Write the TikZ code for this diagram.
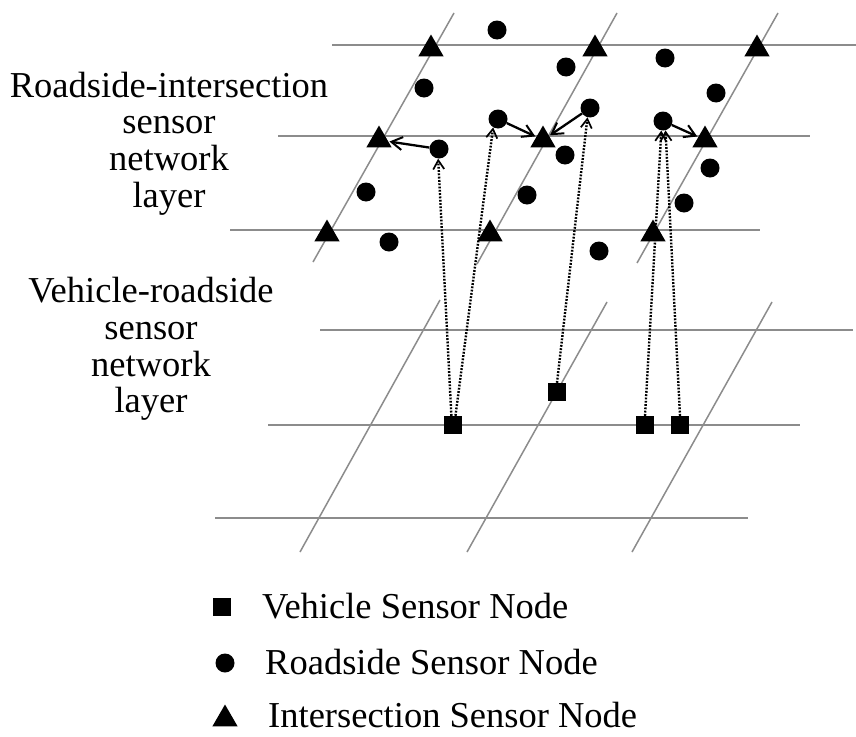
\documentclass[tikz,border=0pt]{standalone}
\usepackage{fontspec}
\setmainfont{Liberation Serif}
\usetikzlibrary{shapes.geometric,arrows.meta}

\tikzset{
  road/.style={draw=black!45, line width=1.5pt},
  roadside/.style={circle, fill=black, inner sep=0pt, minimum size=19pt},
  junction/.style={regular polygon, regular polygon sides=3, fill=black, inner sep=0pt, minimum size=29pt},
  vehicle/.style={rectangle, fill=black, inner sep=0pt, minimum size=18pt},
  relay/.style={draw=black, line width=2.3pt, -{Straight Barb[length=11pt,width=13pt,line width=2pt]}, shorten >=1pt},
  uplink/.style={draw=black, line width=2.4pt, dash pattern=on 1.8pt off 1.5pt, -{Straight Barb[length=9pt,width=11pt,line width=1.7pt]}},
  lbl/.style={align=center, inner sep=0pt, font=\fontsize{36.5}{36.8}\selectfont},
  legendtxt/.style={anchor=base west, inner sep=0pt, font=\fontsize{36.5}{36.8}\selectfont}
}

\begin{document}
\begin{tikzpicture}[x=1pt, y=-1pt]
\useasboundingbox (0,0) rectangle (856,736);

% ---- upper layer: roads ----
\draw[road] (332,45) -- (856,45);
\draw[road] (278,136) -- (810,136);
\draw[road] (230,230) -- (760,230);
\draw[road] (454,13) -- (313,262);
\draw[road] (617,13) -- (477,264);
\draw[road] (778,13) -- (637,263);

% ---- lower layer: roads ----
\draw[road] (320,330) -- (853,330);
\draw[road] (268,425) -- (800,425);
\draw[road] (215,518) -- (748,518);
\draw[road] (440,300) -- (300,552);
\draw[road] (607,302) -- (467,552);
\draw[road] (772,302) -- (632,552);

% ---- intersection sensors ----
\node[junction] (t11) at (431,49) {};
\node[junction] (t12) at (595,49) {};
\node[junction] (t13) at (757,49) {};
\node[junction] (t21) at (379,140) {};
\node[junction] (t22) at (543,140) {};
\node[junction] (t23) at (705,140) {};
\node[junction] (t31) at (327,234) {};
\node[junction] (t32) at (490,234) {};
\node[junction] (t33) at (653,234) {};

% ---- roadside sensors ----
\node[roadside] (r1)  at (497,30) {};
\node[roadside] (r2)  at (424,88) {};
\node[roadside] (r3)  at (566,67) {};
\node[roadside] (r4)  at (665,58) {};
\node[roadside] (r5)  at (716,93) {};
\node[roadside] (r6)  at (498,119) {};
\node[roadside] (r7)  at (590,108) {};
\node[roadside] (r8)  at (663,121) {};
\node[roadside] (r9)  at (439,149) {};
\node[roadside] (r10) at (565,155) {};
\node[roadside] (r11) at (710,168) {};
\node[roadside] (r12) at (366,192) {};
\node[roadside] (r13) at (527,195) {};
\node[roadside] (r14) at (684,203) {};
\node[roadside] (r15) at (389,242) {};
\node[roadside] (r16) at (599,251) {};

% ---- vehicle sensors ----
\node[vehicle] (v1) at (453,425) {};
\node[vehicle] (v2) at (557,392) {};
\node[vehicle] (v3) at (645,425) {};
\node[vehicle] (v4) at (680,425) {};

% ---- roadside to intersection links ----
\draw[relay] (r9) -- (t21);
\draw[relay] (r6) -- (t22);
\draw[relay] (r7) -- (t22);
\draw[relay] (r8) -- (t23);

% ---- vehicle to roadside links ----
\draw[uplink] (v1.100) -- (r9.-95);
\draw[uplink] (v1.75) -- (r6.-120);
\draw[uplink] (v2.north) -- (r7.-105);
\draw[uplink] (v3.north) -- (r8.-100);
\draw[uplink] (v4.north) -- (r8.-75);

% ---- layer labels ----
\node[lbl] (upper) at (169,143.5) {Roadside-intersection\\sensor\\network\\layer};
\node[lbl] (lower) at (151,349) {Vehicle-roadside\\sensor\\network\\layer};

% ---- legend ----
\node[vehicle] (k1) at (222,607) {};
\node[roadside] (k2) at (225,663) {};
\node[junction] (k3) at (225,719) {};
\node[legendtxt] (k1t) at (262,618) {Vehicle Sensor Node};
\node[legendtxt] (k2t) at (265,674) {Roadside Sensor Node};
\node[legendtxt] (k3t) at (268,727) {Intersection Sensor Node};
\end{tikzpicture}
\end{document}
